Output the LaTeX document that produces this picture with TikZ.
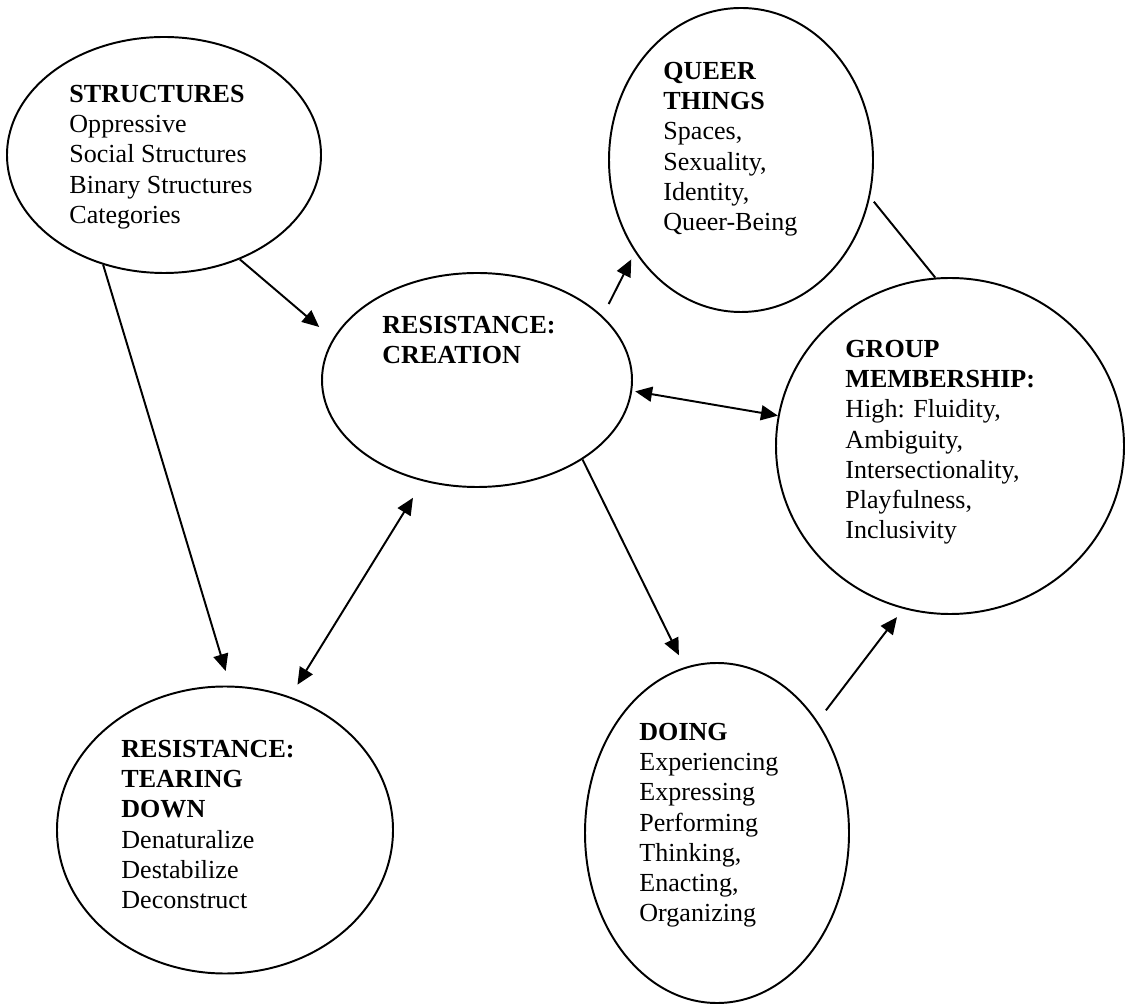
\documentclass[tikz,border=0pt]{standalone}
\usepackage{fontspec}
\setmainfont{Liberation Serif}
\usetikzlibrary{shapes.geometric,arrows.meta}

\begin{document}
\begin{tikzpicture}[
    x=0.4608pt, y=-0.4608pt,
    bubble/.style 2 args={draw, ellipse, line width=0.9pt, inner sep=0pt, minimum width=#1*0.9216pt, minimum height=#2*0.9216pt},
    txt/.style={anchor=north west, align=left, inner sep=0pt, font=\fontsize{12}{13.9}\selectfont, execute at begin node=\strut},
    arrow/.style={-{Triangle[length=7.8pt,width=6.9pt]}, line width=0.9pt},
    twoway/.style={{Triangle[length=7.8pt,width=6.9pt]}-{Triangle[length=7.8pt,width=6.9pt]}, line width=0.9pt},
    link/.style={line width=0.9pt}
]
    \useasboundingbox (0,0) rectangle (1127,1004);

    % Bubbles
    \node[bubble={157}{118}] (structures) at (164,155) {};
    \node[bubble={132}{152}] (queer) at (741,160) {};
    \node[bubble={155}{107}] (creation) at (477,380) {};
    \node[bubble={174}{168}] (group) at (950,446) {};
    \node[bubble={168}{143.5}] (tearing) at (225,830) {};
    \node[bubble={132}{170}] (doing) at (717,833) {};

    % Texts
    \node[txt] (structurestext) at (69,84.9) {\textbf{STRUCTURES}\\Oppressive\\Social Structures\\Binary Structures\\Categories};
    \node[txt] (queertext) at (663,61.9) {\textbf{QUEER}\\\textbf{THINGS}\\Spaces,\\Sexuality,\\Identity,\\Queer-Being};
    \node[txt] (creationtext) at (382,315.9) {\textbf{RESISTANCE:}\\\textbf{CREATION}};
    \node[txt] (grouptext) at (845,339.9) {\textbf{GROUP}\\\textbf{MEMBERSHIP:}\\High: Fluidity,\\Ambiguity,\\Intersectionality,\\Playfulness,\\Inclusivity};
    \node[txt] (tearingtext) at (121,739.9) {\textbf{RESISTANCE:}\\\textbf{TEARING}\\\textbf{DOWN}\\Denaturalize\\Destabilize\\Deconstruct};
    \node[txt] (doingtext) at (639,722.9) {\textbf{DOING}\\Experiencing\\Expressing\\Performing\\Thinking,\\Enacting,\\Organizing};

    % Arrows
    \draw[arrow, shorten >=8.3pt] (structures.-54) -- (creation.164);
    \draw[arrow, shorten >=7pt] (structures.241) -- (tearing.88);
    \draw[twoway, shorten <=8.9pt, shorten >=6.5pt] (creation.242) -- (tearing.64);
    \draw[twoway, shorten <=1.4pt] (creation.-4.6) -- (group.170);
    \draw[arrow, shorten <=6.2pt, shorten >=3.7pt] (creation.27) -- (queer.221);
    \draw[arrow, shorten >=6.1pt] (creation.-37) -- (doing.101);
    \draw[arrow, shorten <=6.3pt, shorten >=4.8pt] (doing.48) -- (group.254);
    \draw[link, shorten <=2.8pt] (queer.-16) -- (group.95);
\end{tikzpicture}
\end{document}
